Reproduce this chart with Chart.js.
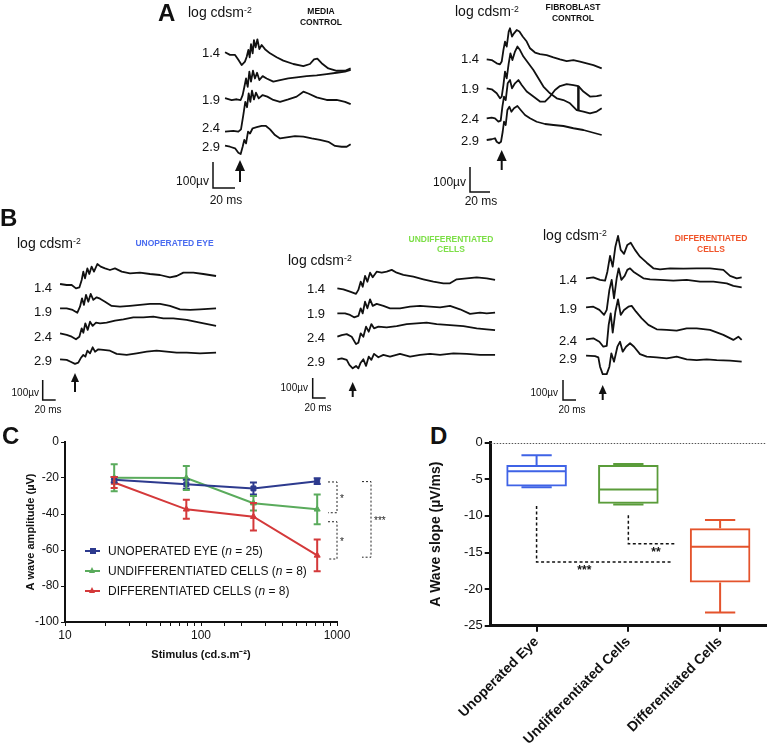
<!DOCTYPE html>
<html><head><meta charset="utf-8">
<script src="https://cdn.jsdelivr.net/npm/chart.js@4.4.1/dist/chart.umd.min.js"></script>
<style>
html,body{margin:0;padding:0;background:#fff;}
#root{position:relative;width:768px;height:746px;overflow:hidden;background:#fff;font-family:"Liberation Sans",Arial,Helvetica,sans-serif;color:#111;}
#root canvas{position:absolute;}
.t{position:absolute;white-space:nowrap;line-height:1;}
.t sup{font-size:0.62em;vertical-align:0.5em;line-height:0;}
</style></head><body><div id="root"></div>
<script>
// ======================= DATA =======================
const intensityLabels = ['1.4', '1.9', '2.4', '2.9'];   // log cd·s·m-2
const calibMs = 20;    // time calibration bar (ms)
const calibUV = 100;   // amplitude calibration bar (µV)

// ---- Panel A: media control ERG traces  [time ms, amplitude µV] ----
const mediaTrace14 = [[-13.6,0],[-9.1,-10],[-4.5,-10],[-1.5,-29],[1.5,-49],[4.5,-36],[6.1,-17],[7.6,9],[8.8,-19],[10,31],[11.5,-4],[12.7,47],[14.2,19],[15.8,50],[17.6,12],[19.7,28],[22.7,12],[27.3,-4],[33.3,-19],[39.4,-32],[48.5,-45],[57.6,-53],[63.6,-45],[67.3,-27],[70.3,-24],[74.2,-42],[80.3,-62],[87.9,-71],[95.5,-71],[100.6,-62]];
const mediaTrace19 = [[-13.6,3],[-7.6,-4],[-3,-1],[0.6,-4],[2.4,15],[3.9,45],[5.5,79],[7,47],[8.5,105],[10,67],[11.8,109],[13.6,79],[15.5,101],[17.6,73],[20.6,88],[24.2,79],[30.3,67],[36.4,73],[43.9,79],[51.5,83],[60.6,88],[69.7,91],[78.8,96],[87.9,101],[95.5,105],[100.6,112]];
const mediaTrace24 = [[-13.6,0],[-6.1,3],[-1.5,0],[0.9,9],[3,64],[4.8,115],[6.4,94],[7.9,147],[9.4,115],[10.9,158],[12.7,124],[14.5,150],[17,128],[20.6,141],[24.8,135],[30.3,122],[36.4,115],[43.9,124],[51.5,135],[57.6,154],[62.1,147],[69.7,132],[78.8,122],[87.9,122],[95.5,115],[100.6,106]];
const mediaTrace29 = [[-13.6,0],[-9.1,-4],[-4.5,-10],[-1.5,-27],[0.6,-32],[2.4,-4],[3.9,22],[5.5,9],[7.3,54],[9.1,47],[11.5,67],[15.2,71],[19.7,76],[23.6,76],[27.3,63],[31.8,41],[36.4,28],[42.4,32],[50,37],[57.6,35],[65.2,28],[72.7,22],[80.3,15],[86.4,-1],[92.4,-4],[97,-4],[100.6,6]];

// ---- Panel A: fibroblast control ERG traces ----
const fibroTrace14 = [[-15,0],[-10,-3],[-5,-16],[-1.7,-20],[0,-9],[1.7,37],[3.3,71],[5,51],[7,111],[8.3,124],[10.3,91],[12.3,104],[15,117],[17.7,111],[21,91],[25,71],[28.3,44],[33.3,27],[38.3,21],[45,17],[51.7,8],[58.3,0],[65,-7],[71.7,-3],[78.3,-9],[85,-16],[91.7,-23],[100,-36]];
const fibroTrace19 = [[-15,0],[-10,-4],[-5,-20],[-1.7,-40],[0,-33],[1.7,13],[3.3,67],[5,40],[7,100],[8.7,140],[10.7,113],[13.3,147],[15.7,167],[18.3,153],[21.7,127],[26.7,100],[31.7,73],[36.7,40],[41.7,7],[48.3,-20],[55,-40],[61.7,-47],[68.3,-60],[75,-87],[81.7,-93],[88.3,-100],[95,-93],[100,-80]];
const fibroTrace24 = [[-15,0],[-10,3],[-6.7,0],[-3.3,-13],[-1,-9],[0.7,47],[2.3,87],[4,73],[6,140],[8.3,153],[10.3,120],[13.3,140],[16.7,153],[20,133],[25,107],[31.7,87],[38.3,67],[43.3,67],[48.3,87],[53.3,113],[58.3,129],[65,137],[71.7,133],[76.7,129],[81.7,107],[88.3,87],[95,89],[100,93]];
const fibroTrace29 = [[-15,0],[-10,3],[-6.7,7],[-5,-7],[-2.7,-13],[-0.7,-7],[1,33],[2.3,73],[4,60],[5.7,120],[7.7,133],[9.7,113],[12.3,127],[15.7,136],[19,120],[23.3,100],[28.3,87],[35,73],[43.3,64],[51.7,60],[61.7,56],[71.7,47],[81.7,40],[91.7,29],[100,20]];
const fibroMarkerMs = 76.7;   // amplitude marker drawn between the 1.9 and 2.4 traces

// ---- Panel B: unoperated eye ----
const unopTrace14 = [[-23,0],[-12.8,-5],[-5.1,-5],[1.5,-22],[6.7,-17],[10.3,20],[12.8,62],[15.4,28],[19,78],[22,50],[25.6,87],[29.2,62],[34.4,100],[39.5,87],[46.2,78],[53.8,70],[61.5,78],[71.8,62],[84.6,53],[100,57],[115.4,50],[130.8,45],[146,33],[156.4,40],[166.7,57],[182,57],[197.4,50],[217,40]];
const unopTrace19 = [[-23,0],[-12.8,0],[-3.6,-8],[3.6,-22],[7.7,8],[10.8,50],[13.8,17],[16.9,67],[20.5,33],[24.1,72],[28.2,42],[33.3,55],[38.5,48],[46.2,33],[56.4,12],[69.2,8],[84.6,12],[100,17],[115.4,22],[130.8,22],[146,12],[161.5,-5],[177,-8],[192.3,-5],[217,0]];
const unopTrace24 = [[-23,0],[-12.8,-8],[-5.1,-17],[1.5,-30],[6.7,-17],[10.3,25],[12.8,3],[15.9,50],[19.5,17],[23.1,58],[27.2,37],[32.3,53],[38.5,50],[48.7,53],[61.5,63],[74.4,70],[89.7,80],[105,80],[120.5,83],[135.9,75],[151.3,75],[171.8,67],[192.3,53],[217,37]];
const unopTrace29 = [[-23,0],[-12.8,-3],[-6.7,-12],[0,-23],[5.1,-17],[8.7,5],[12.8,22],[15.9,13],[19,43],[23.1,30],[27.2,60],[30.8,38],[35.9,50],[43.6,47],[53.8,43],[64.1,27],[79.5,22],[94.9,30],[110.3,38],[125.6,43],[141,38],[156.4,33],[171.8,33],[192.3,30],[217,33]];

// ---- Panel B: undifferentiated cells ----
const undiffTrace14 = [[-23.6,0],[-14.4,-5],[-4.1,-17],[5.1,-28],[8.7,-8],[12.3,33],[15.4,8],[19,62],[22.6,33],[26.7,78],[30.8,55],[36.9,83],[44.6,78],[52.3,83],[60,92],[67.7,78],[77.9,67],[93.3,58],[108.7,45],[124.1,33],[139.5,25],[149.7,25],[160,45],[175.4,50],[190.8,55],[206.2,50],[219,42]];
const undiffTrace19 = [[-23.6,0],[-11.8,0],[-4.1,-8],[2.1,-20],[8.7,-13],[12.3,25],[15.4,0],[19,58],[22.6,25],[26.7,70],[30.8,37],[36.9,47],[47.2,37],[57.4,25],[72.8,25],[88.2,33],[103.6,37],[119,33],[134.4,30],[149.7,37],[165.1,20],[180.5,-3],[195.9,3],[206.2,0],[219,3]];
const undiffTrace24 = [[-23.6,0],[-16.9,8],[-9.2,13],[-1.5,0],[5.1,-37],[8.7,-30],[12.3,17],[16.4,0],[20.5,50],[24.6,25],[28.7,63],[32.8,42],[39.5,50],[52.3,47],[67.7,53],[83.1,63],[98.5,67],[113.8,70],[129.2,63],[149.7,58],[170.3,53],[190.8,42],[206.2,37],[219,33]];
const undiffTrace29 = [[-23.6,0],[-16.9,5],[-9.2,-3],[-5.1,-28],[0,-45],[5.1,-33],[8.7,-45],[12.3,-17],[16.4,0],[20.5,-33],[24.6,13],[28.7,-3],[32.8,27],[39.5,10],[47.2,22],[57.4,13],[72.8,27],[88.2,13],[103.6,22],[119,27],[134.4,22],[154.9,30],[175.4,27],[195.9,22],[219,22]];

// ---- Panel B: differentiated cells ----
const diffTrace14 = [[-25.6,0],[-14.4,5],[-4.1,-8],[3.6,-12],[7.2,33],[11.3,112],[15.4,58],[19.5,158],[23.6,212],[27.7,142],[32.8,122],[37.9,167],[43.1,178],[49.7,142],[57.4,108],[67.7,78],[77.9,50],[88.2,45],[103.6,50],[124.1,48],[144.6,50],[165.1,50],[185.6,42],[195.9,12],[206.2,0],[213.8,5]];
const diffTrace19 = [[-25.6,0],[-14.4,3],[-5.1,-13],[2.1,-38],[6.2,-13],[10.3,87],[13.8,137],[17.4,45],[21.5,145],[24.6,195],[28.7,137],[33.8,157],[37.9,187],[42.1,195],[47.2,178],[54.9,162],[62.6,145],[72.8,140],[88.2,137],[108.7,133],[129.2,137],[149.7,128],[170.3,128],[190.8,120],[201,107],[213.8,100]];
const diffTrace24 = [[-25.6,0],[-14.4,5],[-5.1,-12],[1,-37],[6.2,-33],[9.2,72],[12.3,130],[15.4,33],[19.5,138],[23.6,200],[27.7,122],[32.8,147],[39.5,163],[44.6,167],[51.3,138],[60,105],[70.3,72],[83.1,50],[98.5,47],[113.8,43],[129.2,55],[144.6,55],[165.1,47],[185.6,22],[201,-3],[208.7,13],[213.8,-3]];
const diffTrace29 = [[-25.6,0],[-11.8,-2],[-6.7,-8],[-4.1,-55],[0,-92],[6.2,-92],[10.3,-55],[13.3,12],[17.4,-30],[22.6,45],[26.7,70],[30.8,20],[35.9,45],[42.1,62],[48.2,45],[57.4,8],[67.7,-5],[83.1,-8],[98.5,-13],[113.8,-5],[129.2,-18],[144.6,-22],[160,-18],[175.4,-22],[195.9,-25],[213.8,-30]];

// ---- Panel C: a-wave amplitude vs stimulus ----
const stimulus = [23, 78, 243, 715];
const groupNames = ['UNOPERATED EYE', 'UNDIFFERENTIATED CELLS', 'DIFFERENTIATED CELLS'];
const groupN = [25, 8, 8];
const ampUnoperated = [-21, -23.5, -25.8, -21.8];
const errUnoperated = [1.5, 2.5, 3.3, 1.6];
const ampUndiff = [-19.8, -20, -34, -37.4];
const errUndiff = [7.5, 6.7, 4, 8.3];
const ampDiff = [-22.5, -37.4, -41.5, -63];
const errDiff = [3, 5.3, 7.6, 8.8];
const ampTicks = [0, -20, -40, -60, -80, -100];
const ampSignif = [
  {from: -22.2, to: -39.3, label: '*'},
  {from: -44.3, to: -65, label: '*'},
  {from: -22, to: -64, label: '***'}
];

// ---- Panel D: a-wave slope box plots ----
const slopeCategories = ['Unoperated Eye', 'Undifferentiated Cells', 'Differentiated Cells'];
const slopeMin = [-6.1, -8.45, -23.2];
const slopeQ1 = [-6.0, -8.35, -19.1];
const slopeMedian = [-3.9, -6.4, -14.2];
const slopeQ3 = [-3.05, -3.05, -11.7];
const slopeMax = [-1.7, -2.9, -10.55];
const slopeSignif = [
  {fromCat: 0, toCat: 1.46, top: -8.65, level: -16.3, label: '***', labelCat: 0.52},
  {fromCat: 1, toCat: 1.52, top: -9.9, level: -13.8, label: '**', labelCat: 1.3}
];

// ======================= LAYOUT / STYLE =======================
const FONT = '"Liberation Sans", Arial, Helvetica, sans-serif';
Chart.defaults.font.family = FONT;
Chart.defaults.color = '#111';
const cColors = ['#2d3a8e', '#5aab5c', '#d4393a'];
const cPoint = ['rect', 'triangle', 'triangle'];
const dColors = ['#3f63e6', '#5a9c3a', '#e4532c'];

const root = document.getElementById('root');
function makeCanvas(l, t, w, h) {
  const c = document.createElement('canvas');
  c.width = w; c.height = h;
  c.style.left = l + 'px'; c.style.top = t + 'px';
  c.style.width = w + 'px'; c.style.height = h + 'px';
  root.appendChild(c);
  return c;
}
function txt(html, x, y, o = {}) {
  const d = document.createElement('div');
  d.className = 't';
  d.innerHTML = html;
  d.style.left = x + 'px'; d.style.top = y + 'px';
  d.style.fontSize = (o.size || 12) + 'px';
  if (o.bold) d.style.fontWeight = 'bold';
  if (o.color) d.style.color = o.color;
  if (o.lh) d.style.lineHeight = o.lh + 'px';
  const tx = o.align === 'right' ? '-100%' : o.align === 'center' ? '-50%' : '0';
  if (o.align) d.style.textAlign = o.align;
  d.style.transform = 'translate(' + tx + ',-50%)';
  root.appendChild(d);
  return d;
}

const tracePanels = [
  {traces: [mediaTrace14, mediaTrace19, mediaTrace24, mediaTrace29], box: [205, 25, 160, 175], onsetX: 240,
   pxPerMs: 1.1, pxPerUV: 0.26, baseY: [52.3, 99, 131.7, 145.7], labelY: [52.3, 99, 127.3, 145.7], labelRight: 220,
   arrow: [160, 182, 10, 11], bar: [213, 188], barText: {uvRight: 209, uvY: 181, msX: 226, msY: 200, size: 12}},
  {traces: [fibroTrace14, fibroTrace19, fibroTrace24, fibroTrace29], box: [465, 20, 145, 180], onsetX: 501.7,
   pxPerMs: 1.0, pxPerUV: 0.25, baseY: [59.3, 88.3, 118.3, 140], labelY: [58.3, 88.3, 118.3, 140], labelRight: 479,
   arrow: [150, 170, 10, 11], bar: [470, 192], barText: {uvRight: 466, uvY: 182, msX: 481, msY: 201, size: 12},
   marker: {t: fibroMarkerMs, a: 1, b: 2}},
  {traces: [unopTrace14, unopTrace19, unopTrace24, unopTrace29], box: [38, 245, 185, 165], onsetX: 75,
   pxPerMs: 0.65, pxPerUV: 0.2, baseY: [284, 308.3, 333.3, 359.3], labelY: [287.3, 311, 336, 360], labelRight: 52,
   arrow: [373, 392, 8, 9], bar: [42.7, 400], barText: {uvRight: 39, uvY: 393, msX: 48, msY: 410, size: 10}},
  {traces: [undiffTrace14, undiffTrace19, undiffTrace24, undiffTrace29], box: [308, 255, 195, 150], onsetX: 352.7,
   pxPerMs: 0.65, pxPerUV: 0.2, baseY: [288.3, 313.3, 336.7, 359.3], labelY: [288.3, 313.3, 337.3, 360.7], labelRight: 325,
   arrow: [382, 397, 8, 9], bar: [312.7, 398], barText: {uvRight: 308, uvY: 388, msX: 318, msY: 408, size: 10}},
  {traces: [diffTrace14, diffTrace19, diffTrace24, diffTrace29], box: [555, 222, 195, 185], onsetX: 602.7,
   pxPerMs: 0.65, pxPerUV: 0.2, baseY: [278.3, 307.3, 339.3, 355.7], labelY: [279.3, 308.3, 340, 358.3], labelRight: 577,
   arrow: [385, 400, 8, 9], bar: [563, 400], barText: {uvRight: 558, uvY: 393, msX: 572, msY: 410, size: 10}}
];

function interpY(data, t) {
  for (let i = 1; i < data.length; i++) {
    if (data[i].x >= t) {
      const a = data[i - 1], b = data[i];
      return a.y + (b.y - a.y) * (t - a.x) / (b.x - a.x);
    }
  }
  return data[data.length - 1].y;
}

function makeTraceDeco(p) {
  return {
    id: 'traceDeco',
    afterDatasetsDraw(chart) {
      const ctx = chart.ctx, xs = chart.scales.x, ys = chart.scales.y;
      const L = p.box[0], T = p.box[1];
      ctx.save();
      ctx.strokeStyle = '#111'; ctx.fillStyle = '#111';
      // flash-onset arrow
      const ax = xs.getPixelForValue(0);
      const [a0, a1, aw, ah] = p.arrow;
      ctx.lineWidth = 2;
      ctx.beginPath(); ctx.moveTo(ax, a0 - T + ah - 1); ctx.lineTo(ax, a1 - T); ctx.stroke();
      ctx.beginPath(); ctx.moveTo(ax, a0 - T); ctx.lineTo(ax - aw / 2, a0 - T + ah); ctx.lineTo(ax + aw / 2, a0 - T + ah); ctx.closePath(); ctx.fill();
      // calibration bars
      const bw = xs.getPixelForValue(calibMs) - xs.getPixelForValue(0);
      const bh = ys.getPixelForValue(0) - ys.getPixelForValue(calibUV);
      const bx = p.bar[0] - L, by = p.bar[1] - T;
      ctx.lineWidth = 1.5;
      ctx.beginPath(); ctx.moveTo(bx, by - bh); ctx.lineTo(bx, by); ctx.lineTo(bx + bw, by); ctx.stroke();
      // amplitude marker
      if (p.marker) {
        const da = chart.data.datasets[p.marker.a].data, db = chart.data.datasets[p.marker.b].data;
        const mx = xs.getPixelForValue(p.marker.t);
        ctx.lineWidth = 2.5;
        ctx.beginPath();
        ctx.moveTo(mx, ys.getPixelForValue(interpY(da, p.marker.t)));
        ctx.lineTo(mx, ys.getPixelForValue(interpY(db, p.marker.t)));
        ctx.stroke();
      }
      ctx.restore();
    }
  };
}

tracePanels.forEach(p => {
  const [L, T, W, H] = p.box;
  const cv = makeCanvas(L, T, W, H);
  const datasets = p.traces.map((tr, i) => {
    const off = (p.baseY[i] - T) / p.pxPerUV;
    return {data: tr.map(([t, v]) => ({x: t, y: v - off})), borderColor: '#111', borderWidth: 1.8,
      pointRadius: 0, tension: 0, fill: false, clip: false, borderJoinStyle: 'round'};
  });
  new Chart(cv, {
    type: 'line',
    data: {datasets},
    options: {
      responsive: false, animation: false, devicePixelRatio: 1, events: [],
      layout: {padding: 0},
      plugins: {legend: {display: false}, tooltip: {enabled: false}},
      scales: {
        x: {type: 'linear', display: false, min: (L - p.onsetX) / p.pxPerMs, max: (L + W - p.onsetX) / p.pxPerMs},
        y: {type: 'linear', display: false, min: -H / p.pxPerUV, max: 0}
      }
    },
    plugins: [makeTraceDeco(p)]
  });
  intensityLabels.forEach((lab, i) => txt(lab, p.labelRight, p.labelY[i], {size: 13, align: 'right'}));
  txt('100\u00b5v', p.barText.uvRight, p.barText.uvY, {size: p.barText.size, align: 'right'});
  txt('20 ms', p.barText.msX, p.barText.msY, {size: p.barText.size, align: 'center'});
});

// panel headings
txt('A', 158, 13, {size: 24, bold: true});
txt('log cdsm<sup>-2</sup>', 188, 12, {size: 14});
txt('MEDIA<br>CONTROL', 321, 17, {size: 8.5, bold: true, align: 'center', lh: 11});
txt('log cdsm<sup>-2</sup>', 455, 11, {size: 14});
txt('FIBROBLAST<br>CONTROL', 573, 13, {size: 8.5, bold: true, align: 'center', lh: 11});
txt('B', 0, 218, {size: 24, bold: true});
txt('log cdsm<sup>-2</sup>', 17, 243, {size: 14});
txt('UNOPERATED EYE', 174.5, 243, {size: 8.5, bold: true, align: 'center', color: '#4a6cf0'});
txt('log cdsm<sup>-2</sup>', 288, 260, {size: 14});
txt('UNDIFFERENTIATED<br>CELLS', 451, 243.5, {size: 8.5, bold: true, align: 'center', lh: 10.5, color: '#7ddf48'});
txt('log cdsm<sup>-2</sup>', 543, 235, {size: 14});
txt('DIFFERENTIATED<br>CELLS', 711, 243.3, {size: 8.5, bold: true, align: 'center', lh: 10.5, color: '#f0542a'});
txt('C', 2, 436, {size: 24, bold: true});
txt('D', 430, 436, {size: 24, bold: true});

// ======================= PANEL C =======================
const cDeco = {
  id: 'cDeco',
  afterDatasetsDraw(chart) {
    const ctx = chart.ctx, ys = chart.scales.y, ca = chart.chartArea;
    ctx.save();
    ctx.lineWidth = 2;
    chart.data.datasets.forEach((ds, di) => {
      const meta = chart.getDatasetMeta(di);
      ctx.strokeStyle = ds.borderColor;
      meta.data.forEach((pt, i) => {
        const v = ds.data[i].y, e = ds.errors[i];
        const y1 = ys.getPixelForValue(v + e), y2 = ys.getPixelForValue(v - e);
        ctx.beginPath();
        ctx.moveTo(pt.x, y1); ctx.lineTo(pt.x, y2);
        ctx.moveTo(pt.x - 3.5, y1); ctx.lineTo(pt.x + 3.5, y1);
        ctx.moveTo(pt.x - 3.5, y2); ctx.lineTo(pt.x + 3.5, y2);
        ctx.stroke();
      });
    });
    // significance brackets
    ctx.strokeStyle = '#222'; ctx.fillStyle = '#222'; ctx.lineWidth = 1; ctx.setLineDash([2, 2]);
    ctx.font = '10px ' + FONT; ctx.textBaseline = 'middle';
    ampSignif.forEach((b, i) => {
      const vx = ca.right + (i < 2 ? 0 : 34), hx = vx - 9;
      const y1 = ys.getPixelForValue(b.from), y2 = ys.getPixelForValue(b.to);
      ctx.beginPath();
      ctx.moveTo(hx, y1); ctx.lineTo(vx, y1); ctx.lineTo(vx, y2); ctx.lineTo(hx, y2);
      ctx.stroke();
      ctx.fillText(b.label, vx + 3, (y1 + y2) / 2 + 2);
    });
    ctx.restore();
  }
};

const cSeries = [[ampUnoperated, errUnoperated], [ampUndiff, errUndiff], [ampDiff, errDiff]];
const cOrder = [1, 2, 0];
const cvC = makeCanvas(0, 425, 395, 245);
new Chart(cvC, {
  type: 'line',
  data: {
    datasets: cSeries.map(([amp, err], i) => ({
      label: groupNames[i],
      data: stimulus.map((x, j) => ({x, y: amp[j]})),
      errors: err,
      borderColor: cColors[i], backgroundColor: cColors[i],
      pointStyle: cPoint[i], pointRadius: 3.5, pointBorderWidth: 1,
      borderWidth: 2, tension: 0, fill: false, order: cOrder[i]
    }))
  },
  options: {
    responsive: false, animation: false, devicePixelRatio: 1, events: [],
    layout: {padding: {top: 17, right: 58, left: 0, bottom: 0}},
    plugins: {legend: {display: false}, tooltip: {enabled: false}},
    scales: {
      x: {
        type: 'logarithmic', min: 10, max: 1000,
        afterFit(s) { s.height = 48; },
        grid: {drawOnChartArea: false, drawTicks: true, tickLength: 4, color: '#111', lineWidth: 1},
        border: {display: true, width: 2, color: '#111'},
        ticks: {autoSkip: false, maxRotation: 0, color: '#111', font: {size: 12}, padding: 2,
          callback(v) { const l = Math.log10(v); return Math.abs(l - Math.round(l)) < 1e-9 ? String(v) : ''; }},
        title: {display: true, text: 'Stimulus (cd.s.m\u207b\u00b2)', font: {size: 11, weight: 'bold'}, color: '#111', padding: {top: 0, bottom: 8}}
      },
      y: {
        min: -100, max: 0,
        afterFit(s) { s.width = 65; },
        afterBuildTicks(s) { s.ticks = ampTicks.map(v => ({value: v})); },
        ticks: {color: '#111', font: {size: 12}, padding: 2},
        grid: {drawOnChartArea: false, tickLength: 4, color: '#111', lineWidth: 1},
        border: {display: true, width: 2, color: '#111'},
        title: {display: true, text: 'A wave amplitude (\u00b5V)', font: {size: 11, weight: 'bold'}, color: '#111', padding: {top: 24}}
      }
    }
  },
  plugins: [cDeco]
});

// legend for panel C
const legendY = [550.5, 570.5, 590.5];
groupNames.forEach((name, i) => {
  const ln = document.createElement('div');
  Object.assign(ln.style, {position: 'absolute', left: '85px', top: (legendY[i] - 1) + 'px', width: '15px', height: '2px', background: cColors[i]});
  root.appendChild(ln);
  const mk = document.createElement('div');
  if (cPoint[i] === 'rect') {
    Object.assign(mk.style, {position: 'absolute', left: '89.5px', top: (legendY[i] - 3) + 'px', width: '6px', height: '6px', background: cColors[i]});
  } else {
    Object.assign(mk.style, {position: 'absolute', left: '89px', top: (legendY[i] - 4) + 'px', width: '0', height: '0',
      borderLeft: '3.5px solid transparent', borderRight: '3.5px solid transparent', borderBottom: '6px solid ' + cColors[i]});
  }
  root.appendChild(mk);
  txt(name + ' (<i>n</i> = ' + groupN[i] + ')', 108, legendY[i], {size: 12});
});

// ======================= PANEL D =======================
const dDeco = {
  id: 'dDeco',
  beforeDatasetsDraw(chart) {
    const ctx = chart.ctx, ys = chart.scales.y, ca = chart.chartArea;
    ctx.save();
    ctx.strokeStyle = '#555'; ctx.lineWidth = 1; ctx.setLineDash([1.5, 1.5]);
    const y = Math.round(ys.getPixelForValue(0)) + 0.5;
    ctx.beginPath(); ctx.moveTo(ca.left, y); ctx.lineTo(ca.right, y); ctx.stroke();
    ctx.restore();
  },
  afterDatasetsDraw(chart) {
    const ctx = chart.ctx, xs = chart.scales.x, ys = chart.scales.y;
    const meta = chart.getDatasetMeta(0);
    ctx.save();
    ctx.lineWidth = 2;
    slopeCategories.forEach((c, i) => {
      const bar = meta.data[i];
      const cx = bar.x, hw = bar.width / 2, cap = hw / 2;
      ctx.strokeStyle = dColors[i];
      const yMed = ys.getPixelForValue(slopeMedian[i]);
      const yQ1 = ys.getPixelForValue(slopeQ1[i]), yQ3 = ys.getPixelForValue(slopeQ3[i]);
      const yMin = ys.getPixelForValue(slopeMin[i]), yMax = ys.getPixelForValue(slopeMax[i]);
      ctx.beginPath();
      ctx.moveTo(cx - hw + 1, yMed); ctx.lineTo(cx + hw - 1, yMed);
      ctx.moveTo(cx, yQ3); ctx.lineTo(cx, yMax);
      ctx.moveTo(cx - cap, yMax); ctx.lineTo(cx + cap, yMax);
      ctx.moveTo(cx, yQ1); ctx.lineTo(cx, yMin);
      ctx.moveTo(cx - cap, yMin); ctx.lineTo(cx + cap, yMin);
      ctx.stroke();
    });
    // significance
    ctx.strokeStyle = '#111'; ctx.fillStyle = '#111'; ctx.lineWidth = 1.5; ctx.setLineDash([3, 2.5]);
    ctx.font = 'bold 12px ' + FONT; ctx.textAlign = 'center'; ctx.textBaseline = 'top';
    slopeSignif.forEach(s => {
      const x0 = xs.getPixelForValue(s.fromCat), x1 = xs.getPixelForValue(s.toCat);
      const yt = ys.getPixelForValue(s.top), yl = ys.getPixelForValue(s.level);
      ctx.beginPath(); ctx.moveTo(x0, yt); ctx.lineTo(x0, yl); ctx.lineTo(x1, yl); ctx.stroke();
      ctx.fillText(s.label, xs.getPixelForValue(s.labelCat), yl + 3);
    });
    ctx.restore();
  }
};

const cvD = makeCanvas(384, 425, 384, 321);
new Chart(cvD, {
  type: 'bar',
  data: {
    labels: slopeCategories,
    datasets: [{
      data: slopeQ1.map((q, i) => [q, slopeQ3[i]]),
      borderColor: dColors, backgroundColor: 'rgba(255,255,255,0)',
      borderWidth: 2, borderSkipped: false,
      categoryPercentage: 1, barPercentage: 0.66
    }]
  },
  options: {
    responsive: false, animation: false, devicePixelRatio: 1, events: [],
    layout: {padding: {top: 17.7, right: 2, left: 0, bottom: 0}},
    plugins: {legend: {display: false}, tooltip: {enabled: false}},
    scales: {
      x: {
        afterFit(s) { s.height = 120.3; },
        grid: {drawOnChartArea: false, offset: false, tickLength: 6, color: '#111', lineWidth: 2},
        border: {display: true, width: 3, color: '#111'},
        ticks: {minRotation: 45, maxRotation: 45, autoSkip: false, color: '#111', font: {size: 14, weight: 'bold'}, padding: 2}
      },
      y: {
        min: -25, max: 0,
        afterFit(s) { s.width = 106.7; },
        ticks: {stepSize: 5, color: '#111', font: {size: 13}, padding: 2},
        grid: {drawOnChartArea: false, tickLength: 6, color: '#111', lineWidth: 2},
        border: {display: true, width: 3, color: '#111'},
        title: {display: true, text: 'A Wave slope (\u00b5V/ms)', font: {size: 14, weight: 'bold'}, color: '#111', padding: {top: 44}}
      }
    }
  },
  plugins: [dDeco]
});
</script></body></html>
